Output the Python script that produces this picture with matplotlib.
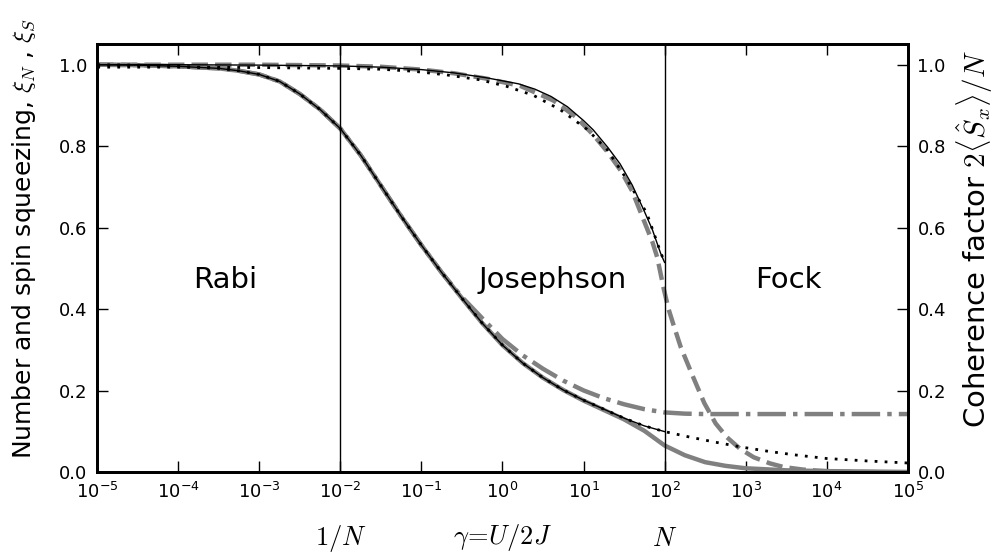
import matplotlib
matplotlib.use("Agg")
import matplotlib.pyplot as plt
import matplotlib.transforms as mtransforms
import numpy as np

plt.rcParams["mathtext.fontset"] = "cm"
plt.rcParams["font.family"] = "DejaVu Sans"

# log10(gamma) positions and values
lg_num = [-5, -4.5, -4, -3.5, -3.25, -3, -2.75, -2.5, -2.25, -2, -1.75, -1.5, -1.25, -1,
          -0.75, -0.5, -0.25, 0, 0.25, 0.5, 0.75, 1, 1.25, 1.5, 1.75, 2, 2.25, 2.5, 2.75,
          3, 3.5, 4, 4.5, 5]
xi_num = [1.0, 0.999, 0.996, 0.991, 0.985, 0.976, 0.959, 0.928, 0.89, 0.843, 0.778, 0.703,
          0.628, 0.557, 0.49, 0.427, 0.366, 0.312, 0.268, 0.232, 0.202, 0.176, 0.153, 0.13,
          0.102, 0.066, 0.042, 0.025, 0.016, 0.01, 0.005, 0.003, 0.002, 0.001]

lg_num_an = [-5, -4.5, -4, -3.5, -3.25, -3, -2.75, -2.5, -2.25, -2, -1.75, -1.5, -1.25, -1,
             -0.75, -0.5, -0.25, 0, 0.25, 0.5, 0.75, 1, 1.25, 1.5, 1.75, 2]
xi_num_an = [1.0, 0.999, 0.996, 0.991, 0.985, 0.976, 0.959, 0.928, 0.89, 0.843, 0.778, 0.703,
             0.628, 0.557, 0.49, 0.427, 0.366, 0.312, 0.268, 0.232, 0.202, 0.177, 0.155,
             0.133, 0.114, 0.10]

lg_num_dot = [-5, -4.5, -4, -3.5, -3.25, -3, -2.75, -2.5, -2.25, -2, -1.75, -1.5, -1.25, -1,
              -0.75, -0.5, -0.25, 0, 0.25, 0.5, 0.75, 1, 1.25, 1.5, 1.75, 2, 2.3, 2.6, 2.95,
              3.3, 3.6, 4.0, 4.5, 5]
xi_num_dot = [1.0, 0.999, 0.996, 0.991, 0.985, 0.976, 0.959, 0.928, 0.89, 0.843, 0.778, 0.703,
              0.628, 0.557, 0.49, 0.427, 0.366, 0.312, 0.268, 0.232, 0.202, 0.177, 0.155,
              0.133, 0.114, 0.10, 0.087, 0.075, 0.062, 0.051, 0.043, 0.034, 0.028, 0.023]

lg_spin = [-5, -4.5, -4, -3.5, -3.25, -3, -2.75, -2.5, -2.25, -2, -1.75, -1.5, -1.25, -1,
           -0.75, -0.5, -0.25, 0, 0.25, 0.5, 0.75, 1, 1.25, 1.5, 1.75, 2, 2.25, 2.5, 3, 4, 5]
xi_spin = [1.0, 0.999, 0.996, 0.991, 0.985, 0.976, 0.959, 0.928, 0.89, 0.843, 0.778, 0.703,
           0.628, 0.557, 0.49, 0.43, 0.378, 0.327, 0.287, 0.254, 0.225, 0.201, 0.182, 0.167,
           0.155, 0.147, 0.144, 0.143, 0.143, 0.143, 0.143]

lg_coh = [-5, -4, -3, -2, -1.5, -1, -0.6, -0.2, 0.22, 0.63, 0.9, 1.12, 1.3, 1.46, 1.6,
          1.74, 1.85, 1.91, 1.99, 2.05, 2.11, 2.2, 2.35, 2.49, 2.63, 2.77, 2.93, 3.1, 3.3,
          3.47, 3.7, 3.9, 4.2, 5]
coh = [1.0, 1.0, 1.0, 0.998, 0.995, 0.988, 0.979, 0.966, 0.948, 0.912, 0.873, 0.828, 0.785,
       0.74, 0.69, 0.62, 0.565, 0.527, 0.45, 0.40, 0.362, 0.307, 0.235, 0.17, 0.12, 0.086,
       0.058, 0.037, 0.022, 0.013, 0.007, 0.004, 0.001, 0.0]

lg_coh_an = [-5, -4, -3, -2, -1.5, -1, -0.6, -0.2, 0.2, 0.4, 0.6, 0.8, 1.0, 1.12, 1.3,
             1.45, 1.6, 1.74, 1.85, 1.95, 2.0]
coh_an = [1.0, 1.0, 0.999, 0.997, 0.994, 0.988, 0.98, 0.968, 0.953, 0.94, 0.922, 0.897,
          0.863, 0.84, 0.797, 0.757, 0.705, 0.645, 0.595, 0.538, 0.515]

lg_coh_dot = [-5, -4, -3, -2, -1.51, -1.1, -0.69, -0.28, 0.05, 0.38, 0.71, 1.04, 1.29,
              1.53, 1.78, 1.94, 2.0]
coh_dot = [0.994, 0.994, 0.993, 0.991, 0.989, 0.984, 0.975, 0.963, 0.947, 0.925, 0.89,
           0.842, 0.792, 0.72, 0.636, 0.546, 0.515]

N = 100.0
regimes = ["Rabi", "Josephson", "Fock"]
regime_x = [0.158, 0.562, 0.853]


def g(lg):
    return 10.0 ** np.array(lg)


fig = plt.figure(figsize=(9.99, 5.59), dpi=100)
ax = fig.add_subplot(111)
fig.subplots_adjust(left=0.0974, right=0.9086, bottom=0.155, top=0.9207)

gray = "#808080"
ax.plot(g(lg_num), xi_num, color=gray, lw=3.2, solid_capstyle="butt")
ax.plot(g(lg_spin), xi_spin, color=gray, lw=3.2, linestyle="-.")
ax.plot(g(lg_coh), coh, color=gray, lw=3.2, linestyle="--")

ax.plot(g(lg_num_an), xi_num_an, color="black", lw=1.0)
ax.plot(g(lg_coh_an), coh_an, color="black", lw=1.0)
ax.plot(g(lg_num_dot), xi_num_dot, color="black", lw=2.0, linestyle=(0, (1, 2.6)))
ax.plot(g(lg_coh_dot), coh_dot, color="black", lw=2.0, linestyle=(0, (1, 2.6)))

ax.axvline(1 / N, color="black", lw=1.0)
ax.axvline(N, color="black", lw=1.0)

ax.set_xscale("log")
ax.set_xlim(1e-5, 1e5)
ax.set_ylim(0, 1.05)
ax.set_xticks(10.0 ** np.arange(-5, 6))
ax.set_yticks([0.0, 0.2, 0.4, 0.6, 0.8, 1.0])
ax.set_yticklabels(["0.0", "0.2", "0.4", "0.6", "0.8", "1.0"])

for rx, name in zip(regime_x, regimes):
    ax.text(rx, 0.449, name, transform=ax.transAxes, ha="center", va="center", fontsize=21)

ax.set_ylabel(r"Number and spin squeezing, $\xi_N$ , $\xi_S$", fontsize=18)
ax.yaxis.set_label_coords(-0.073, 0.545)
ax.set_xlabel(r"$\gamma\!=\!U/2J$", fontsize=19, labelpad=14)

trans = mtransforms.blended_transform_factory(ax.transData, ax.transAxes)
ax.text(1 / N, -0.155, r"$1/N$", transform=trans, ha="center", va="center", fontsize=19)
ax.text(N, -0.155, r"$N$", transform=trans, ha="center", va="center", fontsize=19)

ax.tick_params(which="both", direction="in", top=True, labelsize=13, width=1.0)
ax.tick_params(which="major", length=8, pad=7)
ax.tick_params(which="minor", length=4)
ax.tick_params(axis="y", right=False)
for sp in ax.spines.values():
    sp.set_linewidth(2.0)

ax2 = ax.twinx()
ax2.set_ylim(0, 1.05)
ax2.set_yticks([0.0, 0.2, 0.4, 0.6, 0.8, 1.0])
ax2.set_yticklabels(["0.0", "0.2", "0.4", "0.6", "0.8", "1.0"])
ax2.tick_params(direction="in", labelsize=13, length=8, width=1.0, pad=7)
ax2.set_ylabel(r"Coherence factor $2\langle\hat{S}_x\rangle/N$", fontsize=21)
ax2.yaxis.set_label_coords(1.058, 0.545)
for sp in ax2.spines.values():
    sp.set_linewidth(2.0)

fig.savefig("out.png", dpi=100)
